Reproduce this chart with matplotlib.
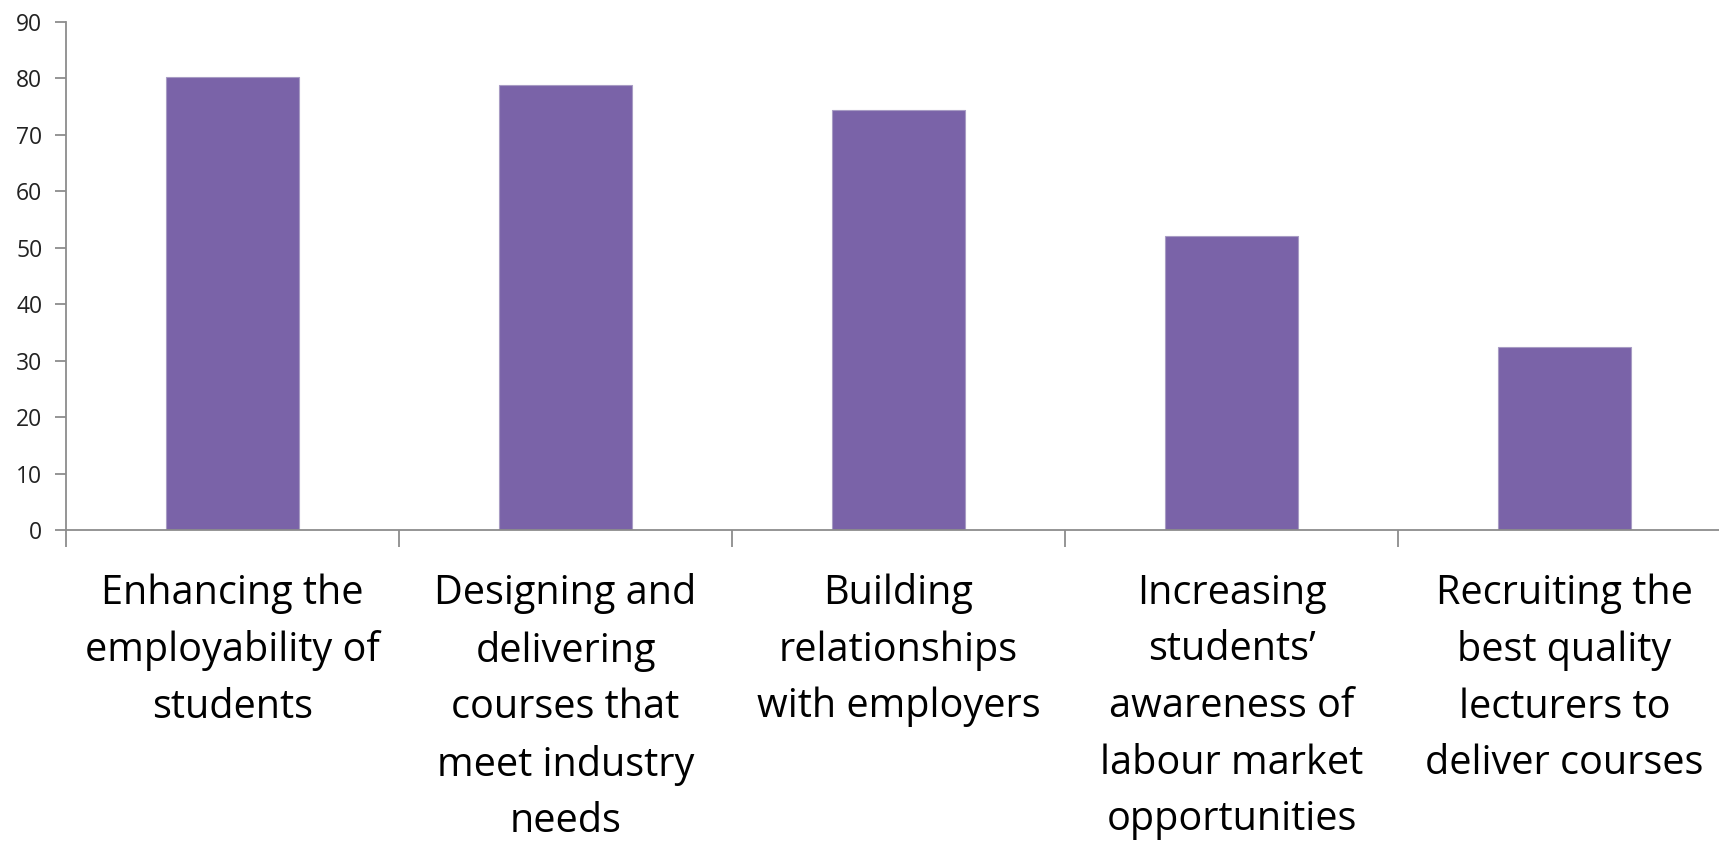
import matplotlib.pyplot as plt
import numpy as np

# categorias e percentagens
categorias = ["Enhancing the\nemployability of\nstudents",
              "Designing and\ndelivering\ncourses that\nmeet industry\nneeds",
              "Building\nrelationships\nwith employers",
              "Increasing\nstudents\u2019\nawareness of\nlabour market\nopportunities",
              "Recruiting the\nbest quality\nlecturers to\ndeliver courses"]
valores = [80.3, 78.9, 74.4, 52.1, 32.4]
yticks = [0, 10, 20, 30, 40, 50, 60, 70, 80, 90]

cor_barra = '#7A63A8'
cor_eixo = '#8C8C8C'

fig = plt.figure(figsize=(17.19, 8.44), dpi=100)
# o eixo continua para la da margem direita
ax = fig.add_axes([0.0384, 0.372, 0.9686, 0.602])

x = np.arange(len(valores))
ax.bar(x, valores, width=0.40, color=cor_barra, edgecolor='#A89CC4', linewidth=0.8, zorder=2)

ax.set_xlim(-0.5, len(valores) - 0.5)
ax.set_ylim(0, 90)
ax.set_yticks(yticks)
ax.set_yticklabels([str(v) for v in yticks], fontsize=16.5, color='#222222', family='Open Sans')

ax.set_xticks(x)
ax.set_xticklabels(categorias, fontsize=28.5, family='Open Sans', linespacing=1.53,
                   color='#000000', va='top')
ax.set_xticks(np.arange(len(valores) + 1) - 0.5, minor=True)
ax.tick_params(axis='x', which='major', length=0, pad=31)
ax.tick_params(axis='x', which='minor', length=12, width=1.3, color=cor_eixo, direction='out')
ax.tick_params(axis='y', length=8, width=1.3, color=cor_eixo, pad=9)

for lado in ['top', 'right']:
    ax.spines[lado].set_visible(False)
for lado in ['left', 'bottom']:
    ax.spines[lado].set_color(cor_eixo)
    ax.spines[lado].set_linewidth(1.3)

fig.savefig('out.png', dpi=100)
